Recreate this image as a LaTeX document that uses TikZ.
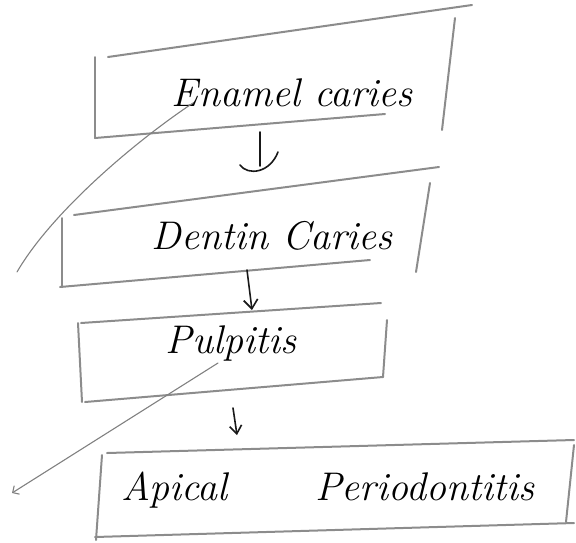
\documentclass[tikz,border=0pt]{standalone}
\usetikzlibrary{arrows.meta}
\begin{document}
\begin{tikzpicture}[x=1pt,y=-1pt,
  pencil/.style={draw=black!45, line width=2pt, line cap=round, line join=round},
  faint/.style={draw=black!50, line width=1.1pt, line cap=round},
  ink/.style={draw=black!90, line width=1.6pt, line cap=round},
  label/.style={font=\fontsize{40}{48}\selectfont\itshape, text=black, inner sep=0pt}]
\useasboundingbox (0,0) rectangle (576,542);
% texts
\node[label] (t1) at (292,93) {Enamel caries};
\node[label] (t2) at (272,236) {Dentin Caries};
\node[label] (t3) at (231,343) {Pulpitis};
\node[label] (t4) at (328,490) {Apical\hspace{2.2em}Periodontitis};
% box 1
\draw[pencil] (108,57) -- (472,5);
\draw[pencil] (455,18) -- (442,130);
\draw[pencil] (95,138) -- (385,114);
\draw[pencil] (95,57) -- (95,138);
% box 2
\draw[pencil] (74,215) -- (439,167);
\draw[pencil] (430,183) -- (416,272);
\draw[pencil] (60,287) -- (370,260);
\draw[pencil] (62,218) -- (62,287);
% box 3
\draw[pencil] (81,323) -- (381,303);
\draw[pencil] (387,320) -- (383,377);
\draw[pencil] (85,402) -- (383,377);
\draw[pencil] (78,323) -- (82,402);
% box 4
\draw[pencil] (107,453) -- (574,440);
\draw[pencil] (574,445) -- (566,522);
\draw[pencil] (95,537) -- (574,523);
\draw[pencil] (102,455) -- (96,540);
% arrows
\coordinate (a1s) at (260,132);
\coordinate (a1e) at (260,166);
\draw[ink] (a1s) -- (a1e);
\draw[ink] (240,165) .. controls (248,176) and (270,173) .. (278,152);
\coordinate (a2s) at (247,270);
\coordinate (a2e) at (252,310);
\draw[ink, -{Straight Barb[length=9pt,width=14pt]}] (a2s) -- (a2e);
\coordinate (a3s) at (233,408);
\coordinate (a3e) at (237,435);
\draw[ink, -{Straight Barb[length=8pt,width=12pt]}] (a3s) -- (a3e);
% diagonal strokes
\coordinate (d1a) at (193,103);
\coordinate (d1b) at (17,272);
\draw[faint] (d1a) .. controls (130,145) and (50,215) .. (d1b);
\coordinate (d2a) at (218,363);
\coordinate (d2b) at (12,493);
\draw[faint, -{Straight Barb[length=5pt,width=10pt]}] (d2a) -- (d2b);
\end{tikzpicture}
\end{document}
